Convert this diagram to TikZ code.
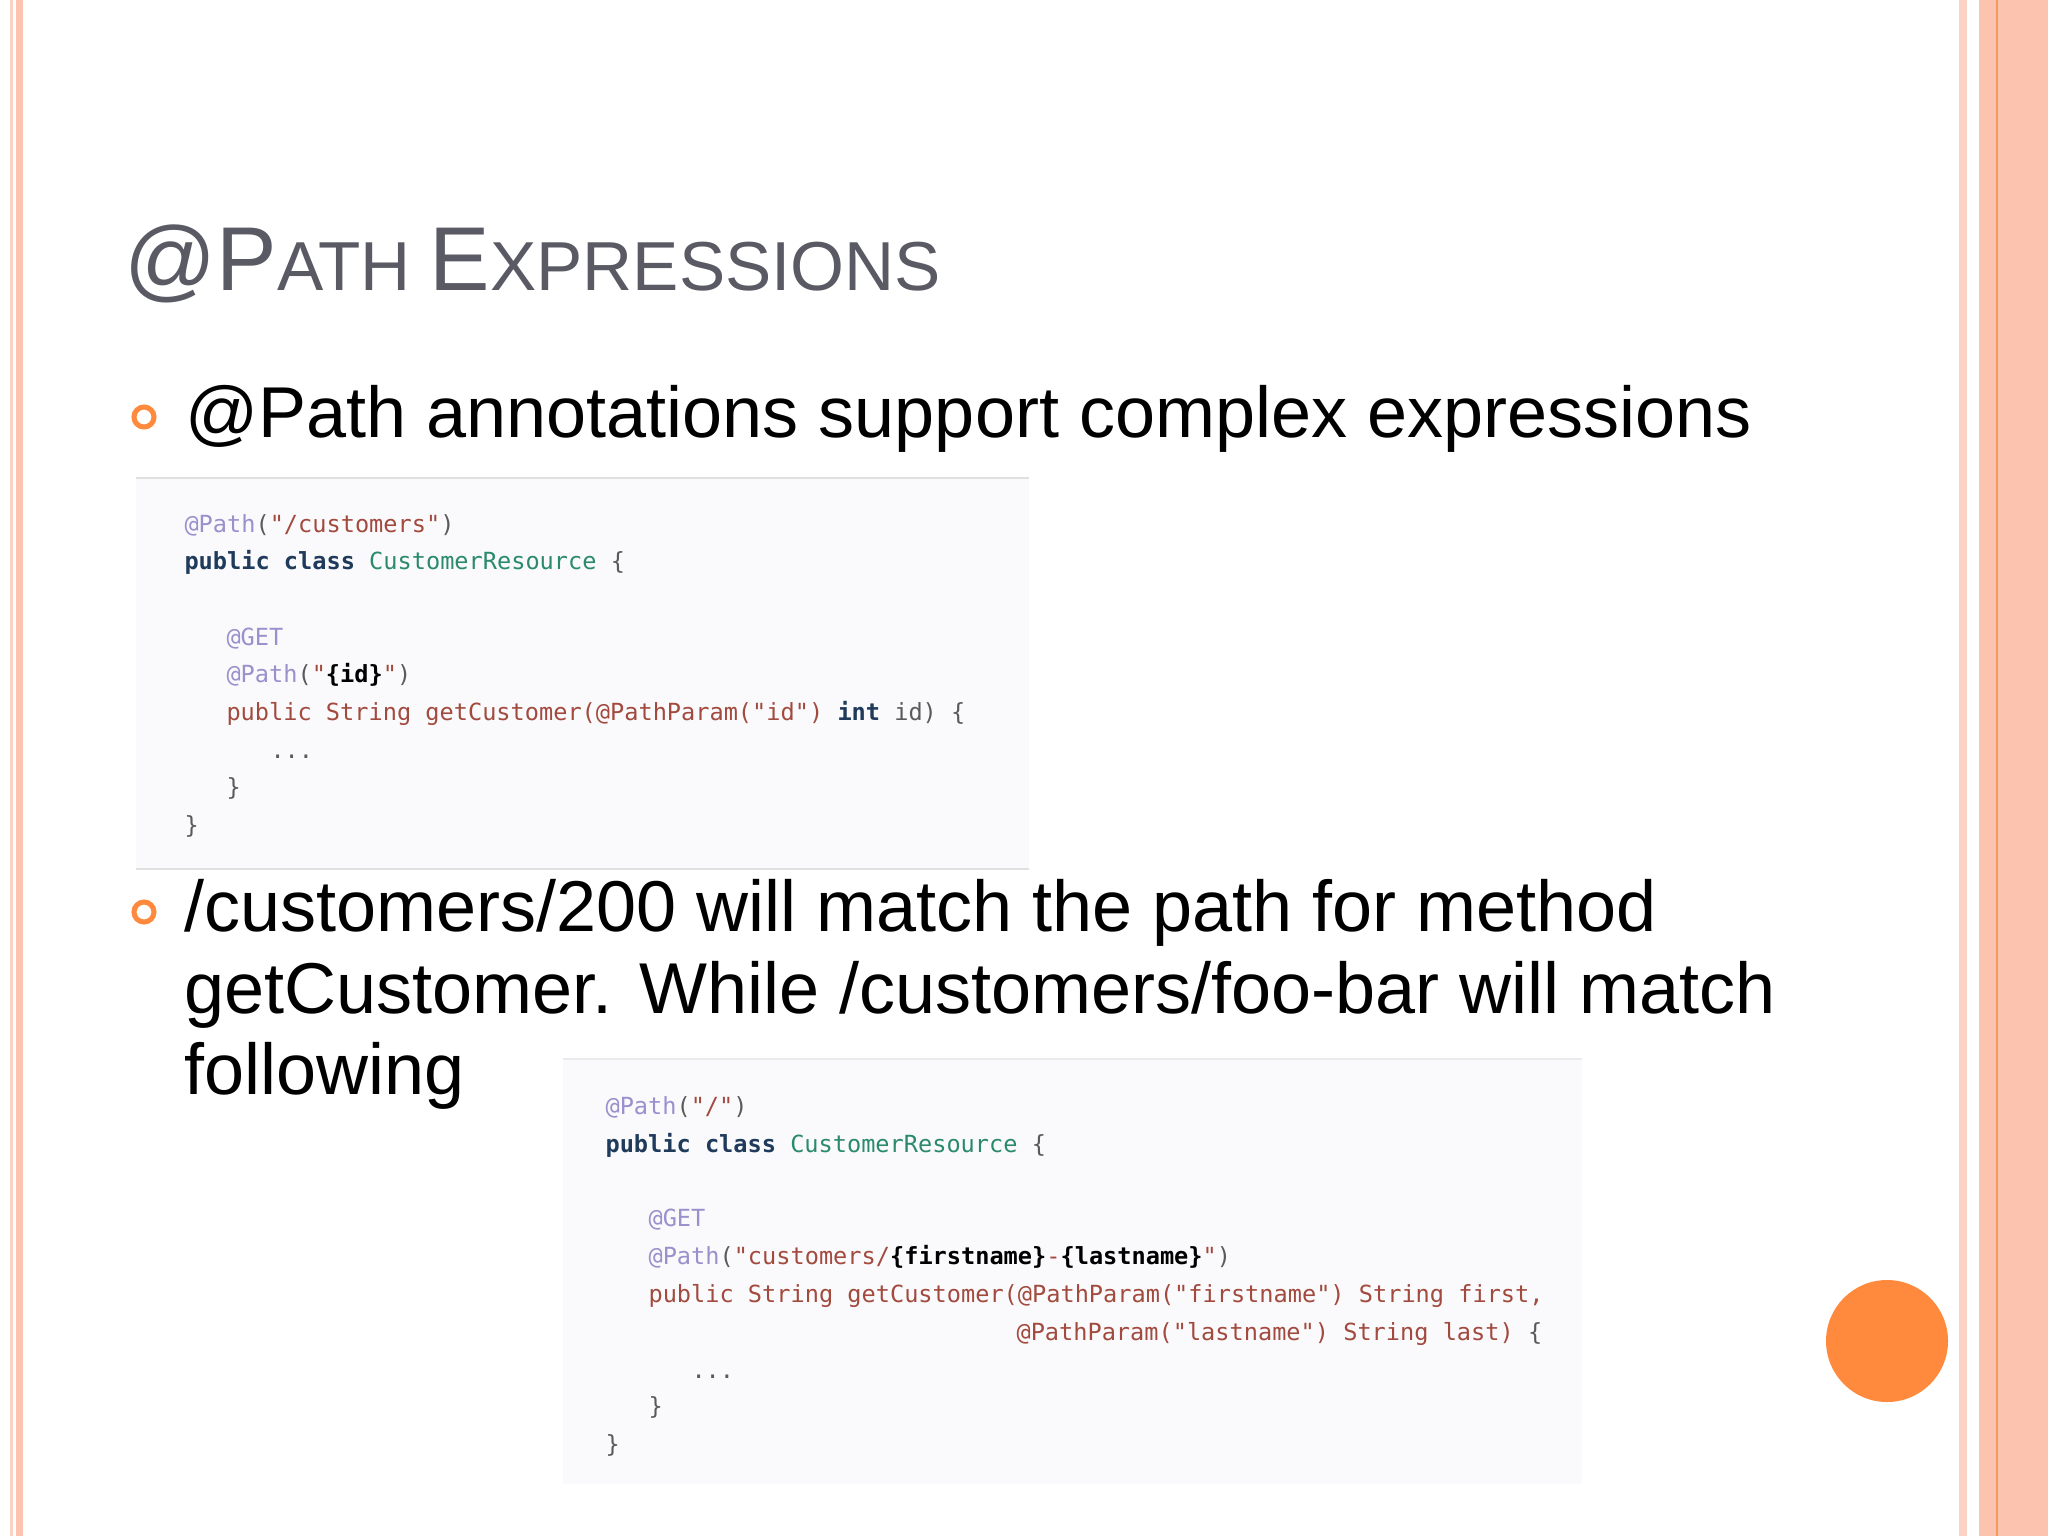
\documentclass[tikz,border=0pt]{standalone}
\usepackage{fontspec}
\setmainfont{Liberation Sans}
\newfontfamily\codefont{DejaVu Sans Mono}
\definecolor{peach}{HTML}{FCC3AE}
\definecolor{peachL}{HTML}{FBD2C4}
\definecolor{orangeL}{HTML}{F39A5E}
\definecolor{accent}{HTML}{FF8A3D}
\definecolor{titlegray}{HTML}{5A5A64}
\definecolor{ann}{HTML}{9A90CC}
\definecolor{str}{HTML}{A24A3E}
\definecolor{kw}{HTML}{1F3A5A}
\definecolor{cls}{HTML}{2A8A6A}
\definecolor{plain}{HTML}{5A5A5A}
\definecolor{codebg}{HTML}{FAFAFC}
\newcommand{\An}[1]{\textcolor{ann}{#1}}
\newcommand{\St}[1]{\textcolor{str}{#1}}
\newcommand{\Kw}[1]{\textcolor{kw}{\bfseries #1}}
\newcommand{\Cl}[1]{\textcolor{cls}{#1}}
\newcommand{\Pl}[1]{\textcolor{plain}{#1}}
\begin{document}
\begin{tikzpicture}[x=0.375pt,y=-0.375pt,
  code/.style={anchor=base west,inner sep=0pt,font=\codefont\fontsize{8.85}{10}\selectfont},
  body/.style={anchor=base west,inner sep=0pt,font=\fontsize{27}{30}\selectfont,text=black},
  bul/.style={circle,draw=accent,line width=1.9pt,minimum size=7.5pt,inner sep=0pt}]
\useasboundingbox (0,0) rectangle (2048,1536);
\fill[white] (0,0) rectangle (2048,1536);
% borders
\fill[peachL] (10,0) rectangle (13,1536);
\fill[peach] (16,0) rectangle (23,1536);
\fill[peachL] (1959,0) rectangle (1967,1536);
\fill[peach] (1979,0) rectangle (2048,1536);
\fill[orangeL] (1996,0) rectangle (1998,1536);
% title
\node[anchor=base west,inner sep=0pt,text=titlegray] (title) at (124,290)
  {\fontsize{34}{40}\selectfont @P\fontsize{26}{30}\selectfont ATH \fontsize{34}{40}\selectfont E\fontsize{26}{30}\selectfont XPRESSIONS};
% bullet 1
\node[bul] (b1) at (144,417) {};
\node[body] (t1) at (185,437) {@Path annotations support complex expressions};
% code block 1
\fill[codebg] (136,478) rectangle (1029,869);
\draw[black!12,line width=0.8pt] (136,478) -- (1029,478) (136,869) -- (1029,869);
\node[code] (c1a) at (184,532) {\An{@Path}\Pl{(}\St{"/customers"}\Pl{)}};
\node[code] (c1b) at (184,569) {\Kw{public} \Kw{class} \Cl{CustomerResource} \Pl{\{}};
\node[code] (c1c) at (226,645) {\An{@GET}};
\node[code] (c1d) at (226,682) {\An{@Path}\Pl{(}\St{"}\textbf{\{id\}}\St{"}\Pl{)}};
\node[code] (c1e) at (226,720) {\St{public String getCustomer(@PathParam("id")} \Kw{int} \Pl{id) \{}};
\node[code] (c1f) at (270,758) {\Pl{...}};
\node[code] (c1g) at (226,795) {\Pl{\}}};
\node[code] (c1h) at (184,833) {\Pl{\}}};
% bullet 2
\node[bul] (b2) at (144,912) {};
\node[body,align=left,anchor=base west] (t2a) at (184,931) {/customers/200 will match the path for method};
\node[body] (t2b) at (184,1013) {getCustomer. While /customers/foo-bar will match};
\node[body] (t2c) at (184,1094) {following};
% code block 2
\fill[codebg] (563,1059) rectangle (1582,1484);
\draw[black!8,line width=0.8pt] (563,1059) -- (1582,1059);
\node[code] (c2a) at (605,1114) {\An{@Path}\Pl{(}\St{"/"}\Pl{)}};
\node[code] (c2b) at (605,1152) {\Kw{public} \Kw{class} \Cl{CustomerResource} \Pl{\{}};
\node[code] (c2c) at (648,1226) {\An{@GET}};
\node[code] (c2d) at (648,1264) {\An{@Path}\Pl{(}\St{"customers/}\textbf{\{firstname\}}\St{-}\textbf{\{lastname\}}\St{"}\Pl{)}};
\node[code] (c2e) at (648,1302) {\St{public String getCustomer(@PathParam("firstname") String first,}};
\node[code] (c2f) at (1016,1340) {\St{@PathParam("lastname") String last)} \Pl{\{}};
\node[code] (c2g) at (691,1378) {\Pl{...}};
\node[code] (c2h) at (648,1414) {\Pl{\}}};
\node[code] (c2i) at (605,1452) {\Pl{\}}};
% orange dot
\node[circle,fill=accent,minimum size=45.75pt,inner sep=0pt] (dot) at (1887,1341) {};
\end{tikzpicture}
\end{document}
